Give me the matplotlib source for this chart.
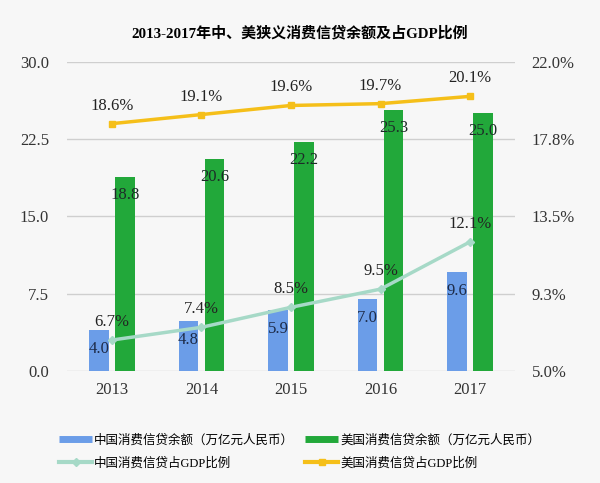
import matplotlib
matplotlib.use("Agg")
import matplotlib.pyplot as plt
from matplotlib.lines import Line2D
import numpy as np

years = ["2013", "2014", "2015", "2016", "2017"]
china_balance = [4.0, 4.8, 5.9, 7.0, 9.6]
us_balance = [18.8, 20.6, 22.2, 25.3, 25.0]
china_gdp_pct = [6.7, 7.4, 8.5, 9.5, 12.1]
us_gdp_pct = [18.6, 19.1, 19.6, 19.7, 20.1]
left_ticks = [0.0, 7.5, 15.0, 22.5, 30.0]
right_ticks = [5.0, 9.25, 13.5, 17.75, 22.0]
right_tick_labels = ["5.0%", "9.3%", "13.5%", "17.8%", "22.0%"]
title = "2013-2017年中、美狭义消费信贷余额及占GDP比例"
legend_labels = ["中国消费信贷余额（万亿元人民币）", "美国消费信贷余额（万亿元人民币）",
                 "中国消费信贷占GDP比例", "美国消费信贷占GDP比例"]

FAM = ["Liberation Serif", "Noto Sans CJK SC"]
plt.rcParams["font.family"] = FAM

c_blue = "#6B9DE8"
c_green = "#22A83A"
c_teal = "#A6D9C7"
c_yellow = "#F5BF19"
bg = "#F7F7F7"

fig = plt.figure(figsize=(6, 4.83), dpi=100, facecolor=bg)
ax = fig.add_axes([0.112, 0.232, 0.746, 0.640], facecolor=bg)
ax2 = ax.twinx()

x = np.arange(len(years))
w = 0.22
off = 0.145
ax.bar(x - off, china_balance, w, color=c_blue, zorder=2)
ax.bar(x + off, us_balance, w, color=c_green, zorder=2)

for xi, v in zip(x - off, china_balance):
    ax.annotate(f"{v:.1f}", (xi, v), xytext=(0, -19), textcoords="offset pixels",
                ha="center", va="center", fontsize=12, color="#1d2b48", zorder=5)
for xi, v in zip(x + off, us_balance):
    ax.annotate(f"{v:.1f}", (xi, v), xytext=(0, -18), textcoords="offset pixels",
                ha="center", va="center", fontsize=12, color="#1d2b28", zorder=5)

ax.set_ylim(0, 30)
ax.set_yticks(left_ticks)
ax.set_yticklabels([f"{t:.1f}" for t in left_ticks])
ax.set_xlim(-0.5, 4.5)
ax.set_xticks(x)
ax.set_xticklabels(years)
ax.grid(axis="y", color="#CFCFCF", linewidth=1, zorder=0)
ax.set_axisbelow(True)

ax2.plot(x, china_gdp_pct, color=c_teal, linewidth=2.5, marker="D", markersize=4, zorder=4)
ax2.plot(x, us_gdp_pct, color=c_yellow, linewidth=2.5, marker="s", markersize=5, zorder=4)
for xi, v in zip(x, china_gdp_pct):
    ax2.annotate(f"{v:.1f}%", (xi, v), xytext=(0, 18), textcoords="offset pixels",
                 ha="center", va="center", fontsize=12, color="#222222")
for xi, v in zip(x, us_gdp_pct):
    ax2.annotate(f"{v:.1f}%", (xi, v), xytext=(0, 18), textcoords="offset pixels",
                 ha="center", va="center", fontsize=12, color="#222222")
ax2.set_ylim(5, 22)
ax2.set_yticks(right_ticks)
ax2.set_yticklabels(right_tick_labels)

for a in (ax, ax2):
    for s in a.spines.values():
        s.set_visible(False)
    a.tick_params(length=0, labelsize=12, colors="#333333")
ax.tick_params(axis="y", pad=13)
ax2.tick_params(axis="y", pad=12)
ax.tick_params(axis="x", pad=8)
ax2.patch.set_visible(False)

fig.text(0.5, 0.932, title, ha="center", va="center", fontsize=10.8, fontweight="bold")

h_cb = Line2D([], [], color=c_blue, linewidth=5, solid_capstyle="butt")
h_ub = Line2D([], [], color=c_green, linewidth=5, solid_capstyle="butt")
h_cl = Line2D([], [], color=c_teal, linewidth=3, marker="D", markersize=4)
h_ul = Line2D([], [], color=c_yellow, linewidth=3, marker="s", markersize=5)
handles = [h_cb, h_cl, h_ub, h_ul]
labels = [legend_labels[0], legend_labels[2], legend_labels[1], legend_labels[3]]
fig.legend(handles, labels, loc="upper left", bbox_to_anchor=(59 / 600, 1 - 434 / 483),
           ncol=2, frameon=False, fontsize=9, handlelength=2.65, columnspacing=0.9,
           handletextpad=0.15, labelspacing=0.9, borderpad=0, borderaxespad=0)

fig.savefig("out.png", dpi=100, facecolor=bg)
